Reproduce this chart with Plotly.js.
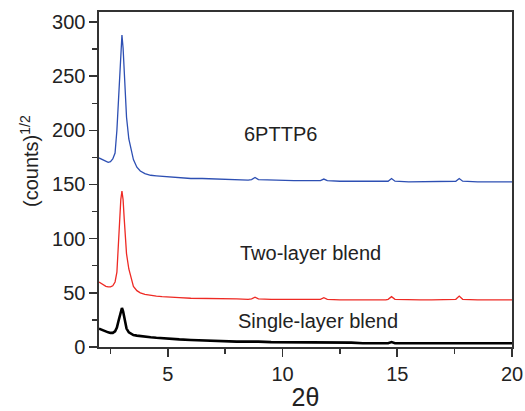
<!DOCTYPE html>
<html>
<head>
<meta charset="utf-8">
<script src="https://cdn.plot.ly/plotly-3.0.1.min.js"></script>
<style>html,body{margin:0;padding:0;background:#fff;}#chart{width:525px;height:411px;}</style>
</head>
<body>
<div id="chart"></div>
<script>
// 2-theta grid shared by all three scans
const twoTheta = [2.0,2.1,2.2,2.3,2.4,2.5,2.6,2.7,2.78,2.85,2.9,2.95,3.0,3.05,3.1,3.15,3.2,3.3,3.4,3.5,3.65,3.8,4.0,4.25,4.5,4.75,5.0,5.5,6.0,6.5,7.0,7.5,8.0,8.5,8.65,8.8,8.95,9.5,10.0,10.5,11.0,11.5,11.65,11.8,11.95,12.5,13.0,13.5,14.0,14.5,14.6,14.75,14.9,15.5,16.0,16.5,17.0,17.3,17.55,17.7,17.85,18.5,19.0,19.5,20.0];

// (counts)^1/2 values
const pttp6 = [174.5,173.5,172,171,170.5,171,173.5,179,200,228,252,275,288,276,252,232,212,192,181,173,166,162.5,160,158.5,158,157.5,157,156.5,155.5,155.5,155,154.5,154.5,154,154.5,156.5,154.5,154,153.5,153.5,153.5,153,153.5,155,153.5,153,153,152.5,153,152.5,153,155.5,153,152.5,152.5,152.5,152.5,152.5,153,155.5,153,152.5,152.5,152.5,152.5];

const twoLayer = [60,58.5,57,56,55.5,55.5,56.5,60,69,97,118,136,144,136,118,100,86,72,63,56,52,50,48.5,47.5,47,46.5,46,45.5,45,45,44.5,44.5,44.5,44,44.5,46,44.5,44,44,43.5,43.5,43.5,44,45.5,44,43.5,43.5,43,43.5,43.5,44,46.5,44,43.5,43.5,43.5,43.5,43.5,44,47,44,43.5,43.5,43.5,43.5];

const singleLayer = [17,16,15,14,13.5,13,13,14.5,18,24,29,34,36,33,27,21,17,13.5,12,11,10.5,10,9.5,9,8.5,8,7.5,7,6.5,6,5.5,5.5,5,5,5,5.5,5,4.5,4.5,4.5,4,4,4,4.5,4,4,4,3.5,3.5,3.5,3.5,4.5,3.5,3.5,3.5,3.5,3.5,3.5,3.5,4,3.5,3.5,3.5,3.5,3.5];

const labels = ["6PTTP6", "Two-layer blend", "Single-layer blend"];
const labelX = [9.92, 11.22, 11.53];
const labelY = [197, 86.5, 24.3];
const yTitle = "(counts)<sup>1/2</sup>";
const xTitle = "2θ";

const font = "Liberation Sans, Arial, sans-serif";
const ink = "#222";

const traces = [
  {x: twoTheta, y: singleLayer, mode: "lines", line: {color: "#000000", width: 2.6}, name: labels[2]},
  {x: twoTheta, y: twoLayer, mode: "lines", line: {color: "#ee2a24", width: 1.3}, name: labels[1]},
  {x: twoTheta, y: pttp6, mode: "lines", line: {color: "#2d4fb3", width: 1.3}, name: labels[0]}
];

const annotations = labels.map((t, i) => ({
  x: labelX[i], y: labelY[i], xref: "x", yref: "y", text: t, showarrow: false,
  font: {family: font, size: 20, color: ink}, xanchor: "center", yanchor: "middle"
}));
annotations.push({
  x: 0, xref: "paper", xshift: -69, xanchor: "center",
  y: 171.7, yref: "y", yanchor: "middle",
  text: yTitle, textangle: -90, showarrow: false,
  font: {family: font, size: 20, color: ink}
});

const axisCommon = {
  showline: true, mirror: true, linecolor: "#333", linewidth: 1.6,
  ticks: "outside", ticklen: 8, tickwidth: 1.6, tickcolor: "#333",
  showgrid: false, zeroline: false,
  tickfont: {family: font, size: 20, color: ink}
};

const layout = {
  width: 525, height: 411,
  margin: {l: 99, r: 13, t: 12, b: 64},
  paper_bgcolor: "#fff", plot_bgcolor: "#fff",
  showlegend: false,
  xaxis: Object.assign({}, axisCommon, {
    range: [2, 20], tick0: 0, dtick: 5,
    minor: {dtick: 2.5, tick0: 0, ticks: "outside", ticklen: 5, tickwidth: 1.4, tickcolor: "#333", showgrid: false},
    title: {text: xTitle, font: {family: font, size: 25, color: ink}, standoff: 10}
  }),
  yaxis: Object.assign({}, axisCommon, {
    range: [0, 309.2], tick0: 0, dtick: 50,
    minor: {dtick: 25, tick0: 0, ticks: "outside", ticklen: 5, tickwidth: 1.4, tickcolor: "#333", showgrid: false}
  }),
  annotations: annotations
};

Plotly.newPlot("chart", traces, layout, {displayModeBar: false, staticPlot: true});
</script>
</body>
</html>
